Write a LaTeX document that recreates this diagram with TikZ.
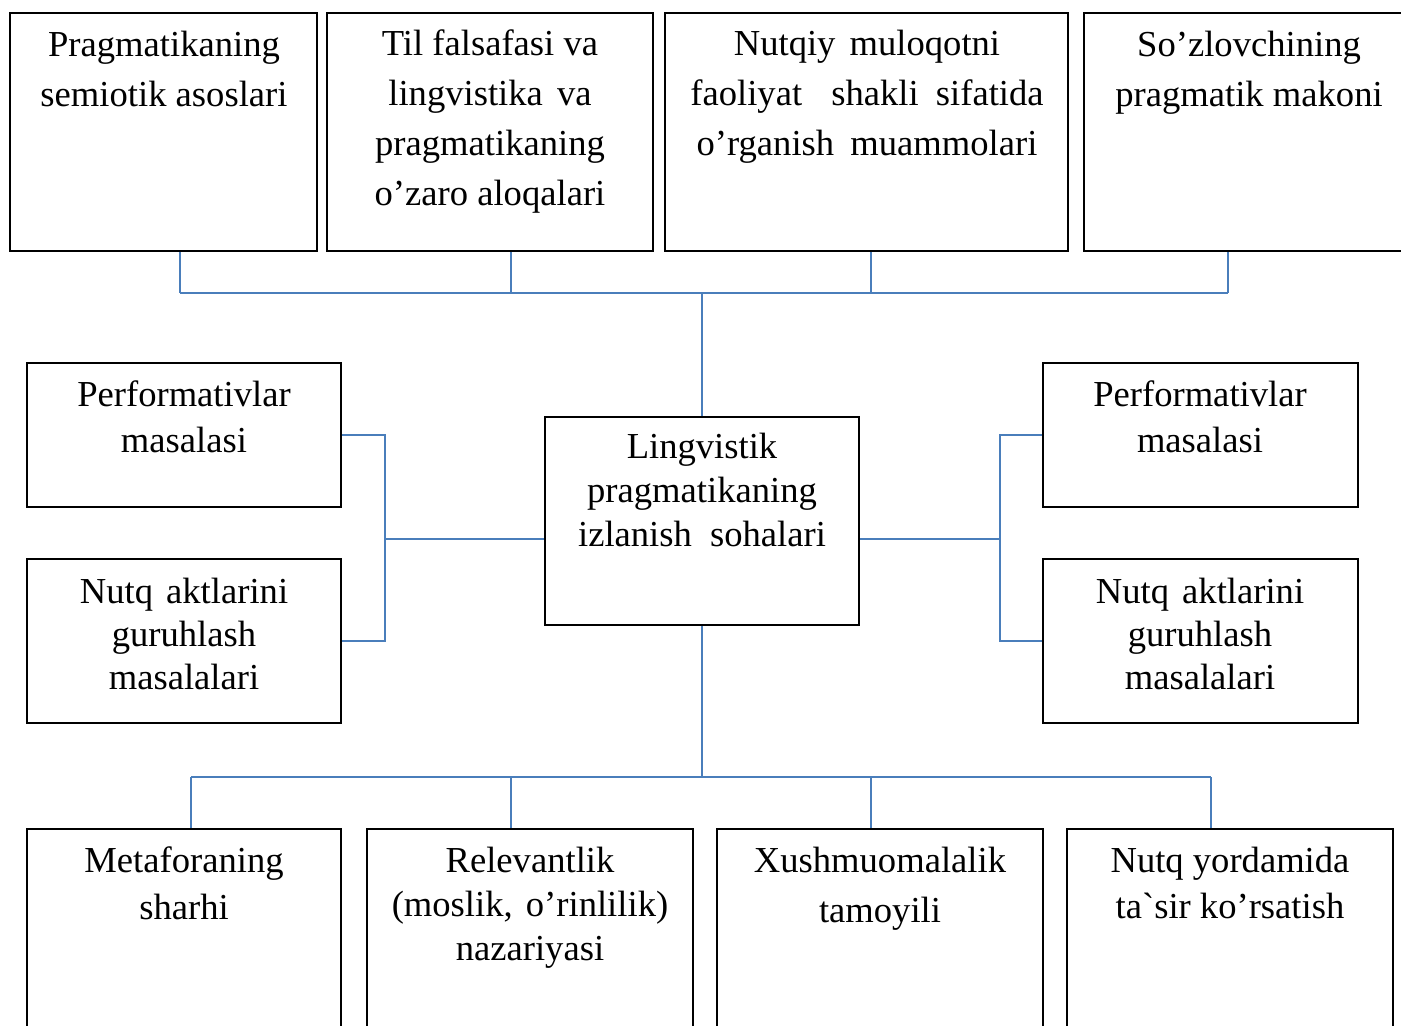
\documentclass[tikz,border=0pt]{standalone}
\usepackage{fontspec}
\newfontfamily\uzfont{Liberation Serif}
\usetikzlibrary{fit}
\definecolor{linkblue}{RGB}{74,126,187}
\tikzset{
  box/.style={rectangle, draw=black, line width=1pt, inner sep=0pt},
  conn/.style={draw=linkblue, line width=0.8pt},
  txt/.style={anchor=base, inner sep=0pt, font=\uzfont\fontsize{18.3pt}{#1}\selectfont},
}
\newcommand\stacklines[1]{\begin{tabular}[t]{@{}c@{}}#1\end{tabular}}
% wider gaps between some words, as in justified text
\newcommand\wgap[1]{\hspace{#1}}
\begin{document}
\begin{tikzpicture}[x=0.5pt,y=-0.5pt]
  \fill[white] (0,0) rectangle (1401,1026);
  \clip (0,0) rectangle (1401,1026);

  % top row
  \node[box, fit={(10,13) (317,251)}] (t1) {};
  \node[box, fit={(327,13) (653,251)}] (t2) {};
  \node[box, fit={(665,13) (1068,251)}] (t3) {};
  \node[box, fit={(1084,13) (1450,251)}] (t4) {};
  \node[txt=25pt] (t1text) at (164,57) {\stacklines{Pragmatikaning\\semiotik asoslari}};
  \node[txt=25pt] (t2text) at (490,56) {\stacklines{Til falsafasi va\\lingvistika\wgap{2.5pt} va\\pragmatikaning\\o’zaro aloqalari}};
  \node[txt=25pt] (t3text) at (867,56) {\stacklines{Nutqiy\wgap{2.5pt} muloqotni\\faoliyat\wgap{10pt} shakli\wgap{4pt} sifatida\\o’rganish\wgap{3.5pt} muammolari}};
  \node[txt=25pt] (t4text) at (1249,57) {\stacklines{So’zlovchining\\pragmatik makoni}};

  % centre
  \node[box, fit={(545,417) (859,625)}] (ctr) {};
  \node[txt=22pt] (ctrtext) at (702,458) {\stacklines{Lingvistik\\pragmatikaning\\izlanish\wgap{4.5pt} sohalari}};

  % left column
  \node[box, fit={(27,363) (341,507)}] (l1) {};
  \node[box, fit={(27,559) (341,723)}] (l2) {};
  \node[txt=23pt] (l1text) at (184,406) {\stacklines{Performativlar\\masalasi}};
  \node[txt=21.5pt] (l2text) at (184,603) {\stacklines{Nutq\wgap{2pt} aktlarini\\guruhlash\\masalalari}};

  % right column
  \node[box, fit={(1043,363) (1358,507)}] (r1) {};
  \node[box, fit={(1043,559) (1358,723)}] (r2) {};
  \node[txt=23pt] (r1text) at (1200,406) {\stacklines{Performativlar\\masalasi}};
  \node[txt=21.5pt] (r2text) at (1200,603) {\stacklines{Nutq\wgap{2pt} aktlarini\\guruhlash\\masalalari}};

  % bottom row
  \node[box, fit={(27,829) (341,1100)}] (b1) {};
  \node[box, fit={(367,829) (693,1100)}] (b2) {};
  \node[box, fit={(717,829) (1043,1100)}] (b3) {};
  \node[box, fit={(1067,829) (1393,1100)}] (b4) {};
  \node[txt=23.5pt] (b1text) at (184,872) {\stacklines{Metaforaning\\sharhi}};
  \node[txt=22pt] (b2text) at (530,872) {\stacklines{Relevantlik\\(moslik,\wgap{2pt} o’rinlilik)\\nazariyasi}};
  \node[txt=25pt] (b3text) at (880,872) {\stacklines{Xushmuomalalik\\tamoyili}};
  \node[txt=23pt] (b4text) at (1230,872) {\stacklines{Nutq yordamida\\ta`sir ko’rsatish}};

  % upper bus
  \coordinate (tj1) at (180,293);
  \coordinate (tj2) at (511,293);
  \coordinate (tj3) at (871,293);
  \coordinate (tj4) at (1228,293);
  \draw[conn] (tj1) -- (tj4);
  \draw[conn] (tj1 |- t1.south) -- (tj1);
  \draw[conn] (tj2 |- t2.south) -- (tj2);
  \draw[conn] (tj3 |- t3.south) -- (tj3);
  \draw[conn] (tj4 |- t4.south) -- (tj4);
  \draw[conn] (ctr.north) -- (ctr.north |- tj1);

  % left and right brackets
  \coordinate (lj) at (385,539);
  \draw[conn] (l1.east) -| (lj);
  \draw[conn] (l2.east) -| (lj);
  \draw[conn] (lj) -- (lj -| ctr.west);
  \coordinate (rj) at (1000,539);
  \draw[conn] (r1.west) -| (rj);
  \draw[conn] (r2.west) -| (rj);
  \draw[conn] (rj) -- (rj -| ctr.east);

  % lower bus
  \coordinate (bj1) at (191,777);
  \coordinate (bj2) at (511,777);
  \coordinate (bj3) at (871,777);
  \coordinate (bj4) at (1211,777);
  \draw[conn] (bj1) -- (bj4);
  \draw[conn] (ctr.south) -- (ctr.south |- bj1);
  \draw[conn] (bj1) -- (bj1 |- b1.north);
  \draw[conn] (bj2) -- (bj2 |- b2.north);
  \draw[conn] (bj3) -- (bj3 |- b3.north);
  \draw[conn] (bj4) -- (bj4 |- b4.north);
\end{tikzpicture}
\end{document}
